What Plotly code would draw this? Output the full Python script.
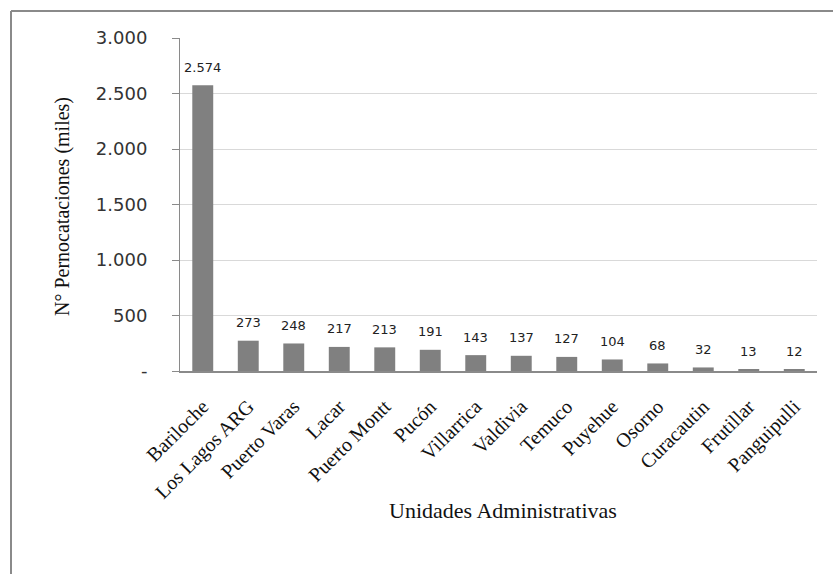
import plotly.graph_objects as go

categories = ["Bariloche", "Los Lagos ARG", "Puerto Varas", "Lacar", "Puerto Montt",
              "Pucón", "Villarrica", "Valdivia", "Temuco", "Puyehue", "Osorno",
              "Curacautin", "Frutillar", "Panguipulli"]
values = [2574, 273, 248, 217, 213, 191, 143, 137, 127, 104, 68, 32, 13, 12]
value_labels = ["2.574", "273", "248", "217", "213", "191", "143", "137", "127",
                "104", "68", "32", "13", "12"]
y_tickvals = [0, 500, 1000, 1500, 2000, 2500, 3000]
y_ticktext = ["-", "500", "1.000", "1.500", "2.000", "2.500", "3.000"]

W, H = 833, 574
L, R, T, B = 180, 16, 38, 203
pw, ph = W - L - R, H - T - B

fig = go.Figure()
fig.add_trace(go.Bar(
    x=categories, y=values,
    marker=dict(color="#808080", line=dict(width=0)),
    width=0.46,
    hoverinfo="x+y",
))

for c, v, t in zip(categories, values, value_labels):
    fig.add_annotation(x=c, y=v, text=t, showarrow=False, yshift=18,
                       yanchor="middle", xanchor="center",
                       font=dict(family="DejaVu Sans", size=13, color="#222"))

def px_x(px):
    return (px - L) / pw

def px_y(py):
    return (H - B - py) / ph

# outer border (left and top visible)
border = dict(color="#8a8a8a", width=2)
fig.add_shape(type="line", xref="paper", yref="paper",
              x0=px_x(11), y0=px_y(11), x1=px_x(840), y1=px_y(11), line=border)
fig.add_shape(type="line", xref="paper", yref="paper",
              x0=px_x(11), y0=px_y(11), x1=px_x(11), y1=px_y(580), line=border)

fig.add_annotation(xref="paper", yref="paper", x=px_x(62), y=px_y(207),
                   text="N° Pernocataciones (miles)", textangle=-90, showarrow=False,
                   xanchor="center", yanchor="middle",
                   font=dict(family="Liberation Serif", size=20, color="#111"))
fig.add_annotation(xref="paper", yref="paper", x=px_x(503), y=px_y(510),
                   text="Unidades Administrativas", showarrow=False,
                   xanchor="center", yanchor="middle",
                   font=dict(family="Liberation Serif", size=22, color="#111"))

fig.update_layout(
    width=W, height=H,
    margin=dict(l=L, r=R, t=T, b=B, pad=0, autoexpand=False),
    paper_bgcolor="white", plot_bgcolor="white",
    showlegend=False,
    xaxis=dict(
        type="category", tickangle=-45, automargin=False,
        tickfont=dict(family="Liberation Serif", size=20, color="#111"),
        ticklabelstandoff=14,
        showline=True, linecolor="#8a8a8a", linewidth=2,
        ticks="", showgrid=False,
    ),
    yaxis=dict(
        range=[0, 3000], tickvals=y_tickvals, ticktext=y_ticktext, automargin=False,
        tickfont=dict(family="DejaVu Sans", size=18, color="#333"),
        ticklabelstandoff=21,
        showline=True, linecolor="#8a8a8a", linewidth=1,
        ticks="outside", ticklen=7, tickcolor="#8a8a8a",
        showgrid=True, gridcolor="#d9d9d9", gridwidth=1,
        zeroline=False,
    ),
)

fig.write_html("out.html", config={"displayModeBar": False},
               post_script="document.body.style.margin='0';document.body.style.overflow='hidden';")
